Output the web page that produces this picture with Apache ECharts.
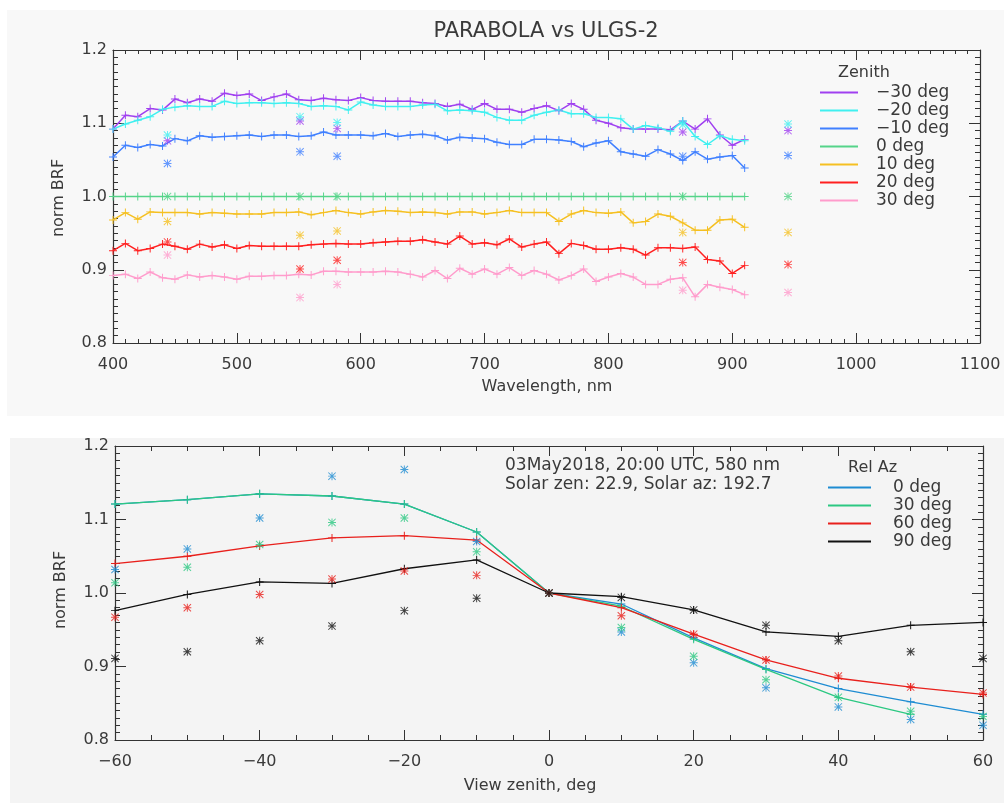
<!DOCTYPE html>
<html>
<head>
<meta charset="utf-8">
<title>PARABOLA vs ULGS-2</title>
<script src="https://cdn.jsdelivr.net/npm/echarts@6.0.0/dist/echarts.min.js"></script>
<style>
  html, body { margin: 0; padding: 0; background: #fff; width: 1004px; height: 803px; overflow: hidden; }
  #top { position: absolute; left: 7px; top: 10px; width: 997px; height: 406px; background: #f8f8f8; }
  #bottom { position: absolute; left: 10px; top: 438px; width: 994px; height: 365px; background: #f4f4f4; }
</style>
</head>
<body>
<div id="top"></div>
<div id="bottom"></div>
<script>
// ---- top panel: spectra, one line per view zenith ----
const wavelengths = [400, 410, 420, 430, 440, 450, 460, 470, 480, 490, 500, 510, 520, 530, 540, 550, 560,
  570, 580, 590, 600, 610, 620, 630, 640, 650, 660, 670, 680, 690, 700, 710, 720, 730, 740, 750, 760,
  770, 780, 790, 800, 810, 820, 830, 840, 850, 860, 870, 880, 890, 900, 910];

const zenithNames = ['−30 deg', '−20 deg', '−10 deg', '0 deg', '10 deg', '20 deg', '30 deg'];

const brfM30 = [1.092, 1.111, 1.109, 1.120, 1.118, 1.133, 1.128, 1.133, 1.130, 1.141, 1.138, 1.140, 1.131,
  1.136, 1.140, 1.132, 1.131, 1.134, 1.132, 1.131, 1.135, 1.131, 1.130, 1.130, 1.130, 1.128, 1.127, 1.123,
  1.126, 1.119, 1.127, 1.119, 1.119, 1.115, 1.120, 1.124, 1.117, 1.127, 1.119, 1.104, 1.100, 1.094, 1.092,
  1.092, 1.092, 1.091, 1.103, 1.092, 1.106, 1.084, 1.070, 1.078];
const brfM20 = [1.092, 1.099, 1.104, 1.109, 1.119, 1.122, 1.124, 1.123, 1.123, 1.130, 1.127, 1.128, 1.128,
  1.127, 1.128, 1.127, 1.123, 1.124, 1.123, 1.118, 1.129, 1.125, 1.123, 1.123, 1.123, 1.125, 1.126, 1.117,
  1.118, 1.117, 1.115, 1.108, 1.104, 1.104, 1.111, 1.115, 1.118, 1.113, 1.113, 1.108, 1.108, 1.106, 1.092,
  1.097, 1.094, 1.089, 1.103, 1.082, 1.071, 1.083, 1.078, 1.076];
const brfM10 = [1.054, 1.070, 1.067, 1.071, 1.069, 1.079, 1.076, 1.083, 1.081, 1.082, 1.083, 1.084, 1.082,
  1.084, 1.084, 1.082, 1.083, 1.088, 1.084, 1.084, 1.084, 1.083, 1.086, 1.082, 1.084, 1.085, 1.083, 1.077,
  1.081, 1.080, 1.079, 1.074, 1.071, 1.071, 1.078, 1.078, 1.077, 1.075, 1.068, 1.073, 1.076, 1.061, 1.058,
  1.055, 1.064, 1.058, 1.049, 1.061, 1.051, 1.054, 1.056, 1.039];
const brf0 = [1, 1, 1, 1, 1, 1, 1, 1, 1, 1, 1, 1, 1, 1, 1, 1, 1, 1, 1, 1, 1, 1, 1, 1, 1, 1,
  1, 1, 1, 1, 1, 1, 1, 1, 1, 1, 1, 1, 1, 1, 1, 1, 1, 1, 1, 1, 1, 1, 1, 1, 1, 1];
const brfP10 = [0.968, 0.978, 0.969, 0.979, 0.978, 0.978, 0.978, 0.976, 0.978, 0.977, 0.976, 0.976, 0.976,
  0.978, 0.978, 0.979, 0.975, 0.978, 0.981, 0.978, 0.976, 0.979, 0.981, 0.980, 0.978, 0.979, 0.978, 0.976,
  0.979, 0.979, 0.976, 0.978, 0.981, 0.978, 0.978, 0.978, 0.966, 0.976, 0.981, 0.978, 0.977, 0.979, 0.964,
  0.966, 0.976, 0.973, 0.964, 0.954, 0.954, 0.968, 0.969, 0.958];
const brfP20 = [0.926, 0.936, 0.926, 0.929, 0.935, 0.932, 0.928, 0.935, 0.931, 0.934, 0.929, 0.933, 0.932,
  0.932, 0.932, 0.932, 0.934, 0.935, 0.936, 0.935, 0.935, 0.937, 0.938, 0.939, 0.939, 0.941, 0.938, 0.935,
  0.946, 0.935, 0.937, 0.934, 0.942, 0.931, 0.935, 0.938, 0.922, 0.936, 0.933, 0.928, 0.928, 0.930, 0.928,
  0.920, 0.930, 0.930, 0.929, 0.931, 0.914, 0.912, 0.895, 0.906];
const brfP30 = [0.892, 0.894, 0.888, 0.897, 0.889, 0.887, 0.893, 0.890, 0.892, 0.890, 0.887, 0.891, 0.891,
  0.892, 0.892, 0.894, 0.893, 0.898, 0.898, 0.897, 0.897, 0.897, 0.898, 0.897, 0.894, 0.890, 0.899, 0.888,
  0.902, 0.894, 0.901, 0.894, 0.903, 0.892, 0.899, 0.894, 0.886, 0.892, 0.901, 0.884, 0.890, 0.895, 0.890,
  0.880, 0.880, 0.887, 0.889, 0.863, 0.880, 0.876, 0.873, 0.866];

// measured points (asterisks)
const obsWavelengths = [444, 551, 581, 860, 945];
const obsM30 = [1.076, 1.103, 1.093, 1.088, 1.090];
const obsM20 = [1.084, 1.109, 1.101, 1.098, 1.099];
const obsM10 = [1.045, 1.061, 1.055, 1.055, 1.056];
const obs0 = [1.0, 1.0, 1.0, 1.0, 1.0];
const obsP10 = [0.966, 0.947, 0.953, 0.951, 0.951];
const obsP20 = [0.938, 0.901, 0.913, 0.910, 0.907];
const obsP30 = [0.920, 0.862, 0.880, 0.872, 0.869];

// ---- bottom panel: BRF vs view zenith at 580 nm ----
const viewZenith = [-60, -50, -40, -30, -20, -10, 0, 10, 20, 30, 40, 50, 60];
const relAzNames = ['0 deg', '30 deg', '60 deg', '90 deg'];

const relAz0 = [1.121, 1.127, 1.135, 1.132, 1.121, 1.083, 1.0, 0.985, 0.939, 0.897, 0.870, 0.852, 0.835];
const relAz30 = [1.121, 1.127, 1.135, 1.132, 1.121, 1.083, 1.0, 0.982, 0.937, 0.896, 0.858, 0.835, null];
const relAz60 = [1.040, 1.050, 1.064, 1.075, 1.078, 1.072, 1.0, 0.980, 0.944, 0.909, 0.884, 0.872, 0.862];
const relAz90 = [0.976, 0.998, 1.015, 1.013, 1.033, 1.045, 1.0, 0.995, 0.977, 0.947, 0.941, 0.956, 0.960];

const obsAz0 = [1.032, 1.060, 1.102, 1.159, 1.168, 1.070, 1.0, 0.947, 0.905, 0.871, 0.845, 0.828, 0.820];
const obsAz30 = [1.014, 1.035, 1.066, 1.096, 1.102, 1.056, 1.0, 0.953, 0.914, 0.882, 0.858, 0.839, 0.832];
const obsAz60 = [0.967, 0.980, 0.998, 1.019, 1.030, 1.024, 1.0, 0.969, 0.944, 0.909, 0.887, 0.872, 0.864];
const obsAz90 = [0.911, 0.920, 0.935, 0.955, 0.976, 0.993, 1.0, 0.994, 0.977, 0.956, 0.935, 0.920, 0.911];

const FONT = 'DejaVu Sans';
const INK = '#3a3a3a';
const PLUS = 'path://M4.4,0h1.2v10h-1.2zM0,4.4h10v1.2h-10z';
const STAR = 'path://M4.4,0h1.2v10h-1.2zM0,4.4h10v1.2h-10zM0.85,0L10,9.15L9.15,10L0,0.85zM9.15,0L10,0.85L0.85,10L0,9.15z';

const zenithColors = ['#a040f0', '#40f0f0', '#4080ff', '#55d489', '#f5c022', '#ff2020', '#ff9ccc'];
const relAzColors = ['#1e8cd2', '#2cc882', '#e8201c', '#111111'];

function pairs(xs, ys) {
  return xs.map((x, i) => [x, ys[i]]);
}

function minus(v) {
  return String(v).replace('-', '\u2212');
}

function axis(position, min, max, interval, minorSplit, majorLen, minorLen, labels, margin, formatter) {
  return {
    type: 'value',
    position,
    min,
    max,
    interval,
    axisLine: { show: true, onZero: false, lineStyle: { color: '#333', width: 1.2 } },
    axisTick: { show: true, inside: true, length: majorLen, lineStyle: { color: '#333', width: 1 } },
    minorTick: { show: true, splitNumber: minorSplit, length: minorLen, lineStyle: { color: '#333', width: 1 } },
    splitLine: { show: false },
    minorSplitLine: { show: false },
    axisLabel: { show: labels, color: INK, fontFamily: FONT, fontSize: 16, margin, formatter },
  };
}

function text(x, y, str, size, extra) {
  return Object.assign({
    type: 'text',
    x,
    y,
    style: { text: str, fill: INK, fontFamily: FONT, fontSize: size, align: 'left', verticalAlign: 'middle' },
  }, extra || {});
}

function centered(x, y, str, size, rotation) {
  const t = text(x, y, str, size, { rotation: rotation || 0 });
  t.style.align = 'center';
  return t;
}

function lineSeries(name, xs, ys, color, width) {
  return {
    type: 'line',
    name,
    data: pairs(xs, ys),
    symbol: PLUS,
    symbolSize: 8,
    itemStyle: { color },
    lineStyle: { color, width },
    z: 2,
  };
}

function starSeries(name, xs, ys, color) {
  return {
    type: 'scatter',
    name: name + ' obs',
    data: pairs(xs, ys),
    symbol: STAR,
    symbolSize: 8,
    itemStyle: { color },
    clip: false,
    z: 3,
  };
}

function legend(names, left, top, iconWidth, textGap) {
  return {
    data: names,
    orient: 'vertical',
    left,
    top,
    padding: 0,
    itemWidth: iconWidth,
    itemHeight: 2,
    itemGap: 1,
    selectedMode: false,
    itemStyle: { opacity: 0 },
    lineStyle: { width: 2 },
    textStyle: { fontFamily: FONT, fontSize: 17, color: INK, padding: [0, 0, 0, textGap] },
  };
}

const yFmt = v => v.toFixed(1);

const topLines = [brfM30, brfM20, brfM10, brf0, brfP10, brfP20, brfP30];
const topObs = [obsM30, obsM20, obsM10, obs0, obsP10, obsP20, obsP30];

const topChart = echarts.init(document.getElementById('top'));
topChart.setOption({
  animation: false,
  grid: { left: 106, top: 40, width: 867, height: 293 },
  xAxis: [
    axis('bottom', 400, 1100, 100, 10, 10, 4, true, 14, v => v),
    axis('top', 400, 1100, 100, 10, 10, 4, false, 8),
  ],
  yAxis: [
    axis('left', 0.8, 1.2, 0.1, 10, 11, 5, true, 6, yFmt),
    axis('right', 0.8, 1.2, 0.1, 10, 11, 5, false, 6),
  ],
  legend: legend(zenithNames, 812, 74, 38, 13),
  graphic: [
    centered(539, 22, 'PARABOLA vs ULGS-2', 21),
    centered(52, 188, 'norm BRF', 16, Math.PI / 2),
    centered(540, 377, 'Wavelength, nm', 16),
    text(831, 63, 'Zenith', 16),
  ],
  series: [
    ...topLines.map((ys, i) => lineSeries(zenithNames[i], wavelengths, ys, zenithColors[i], 1.5)),
    ...topObs.map((ys, i) => starSeries(zenithNames[i], obsWavelengths, ys, zenithColors[i])),
  ],
});

const bottomLines = [relAz0, relAz30, relAz60, relAz90];
const bottomObs = [obsAz0, obsAz30, obsAz60, obsAz90];

const bottomChart = echarts.init(document.getElementById('bottom'));
bottomChart.setOption({
  animation: false,
  grid: { left: 105, top: 5, width: 868, height: 297 },
  xAxis: [
    axis('bottom', -60, 60, 20, 4, 10, 5, true, 14, minus),
    axis('top', -60, 60, 20, 4, 10, 5, false, 8),
  ],
  yAxis: [
    axis('left', 0.8, 1.2, 0.1, 10, 11, 5, true, 6, yFmt),
    axis('right', 0.8, 1.2, 0.1, 10, 11, 5, false, 6),
  ],
  legend: legend(relAzNames, 817, 41, 43, 17),
  graphic: [
    text(495, 28, '03May2018, 20:00 UTC, 580 nm', 17),
    text(495, 47, 'Solar zen: 22.9, Solar az: 192.7', 17),
    text(838, 30, 'Rel Az', 16),
    centered(51, 152, 'norm BRF', 16, Math.PI / 2),
    centered(520, 348, 'View zenith, deg', 16),
  ],
  series: [
    ...bottomLines.map((ys, i) => lineSeries(relAzNames[i], viewZenith, ys, relAzColors[i], 1.3)),
    ...bottomObs.map((ys, i) => starSeries(relAzNames[i], viewZenith, ys, relAzColors[i])),
  ],
});
</script>
</body>
</html>
